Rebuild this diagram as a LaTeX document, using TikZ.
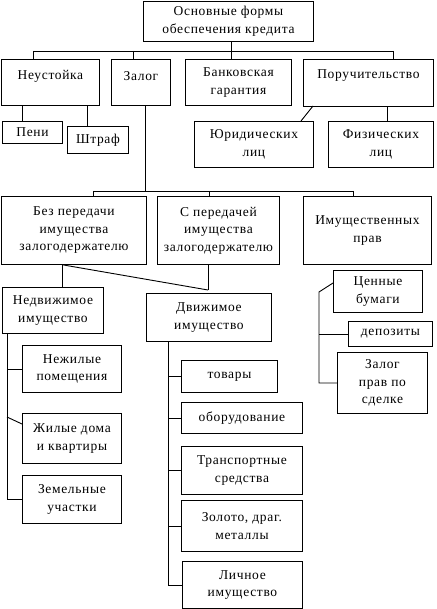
\documentclass[tikz,border=0pt]{standalone}
\usepackage{fontspec}
\setmainfont[LetterSpace=5]{Liberation Serif}
\usetikzlibrary{calc}
\tikzset{
  box/.style={draw, line width=0.9pt, align=center, inner sep=0pt, anchor=north west,
    font=\fontsize{13.5}{17.5}\selectfont},
  txt/.style={align=center, inner sep=0pt, font=\fontsize{13.5}{17.5}\selectfont},
  conn/.style={line width=0.9pt}
}
\newcommand\bx[6]{\node[box, minimum width={(#4-#2)*1pt}, minimum height={(#5-#3)*1pt}] (#1) at (#2,-#3) {#6};}
\begin{document}
\begin{tikzpicture}[x=1pt,y=1pt]
\useasboundingbox (0,0) rectangle (436,-609);
% top level
\bx{top}{143}{1}{313}{41}{Основные формы\\обеспечения кредита}
\bx{neu}{1}{59}{99}{105}{}
\node[txt] (neut) at ($(neu.north)+(0,-17)$) {Неустойка};
\bx{zalog}{111}{59}{170}{105}{}
\node[txt] (zalogt) at ($(zalog.north)+(0,-17)$) {Залог};
\bx{bank}{185}{59}{291}{105}{Банковская\\гарантия}
\bx{poruch}{303}{59}{433}{106}{}
\node[txt] (poruch t) at ($(poruch.north)+(0,-17)$) {Поручительство};
\bx{peni}{2}{121}{62}{143}{Пени}
\bx{shtraf}{67}{126}{128}{153}{Штраф}
\bx{yur}{194}{121}{313}{167}{Юридических\\лиц}
\bx{fiz}{328}{121}{433}{167}{Физических\\лиц}
% pledge
\bx{bez}{1}{196}{146}{264}{Без передачи\\имущества\\залогодержателю}
\bx{sper}{157}{196}{279}{264}{С передачей\\имущества\\залогодержателю}
\bx{imush}{303}{196}{431}{264}{Имущественных\\прав}
\bx{nedv}{2}{287}{103}{333}{Недвижимое\\имущество}
\bx{dvizh}{146}{293}{271}{341}{Движимое\\имущество}
\bx{nezh}{22}{345}{121}{392}{Нежилые\\помещения}
\bx{zhil}{22}{413}{121}{463}{Жилые дома\\и квартиры}
\bx{zem}{22}{475}{121}{523}{Земельные\\участки}
\bx{tovary}{181}{360}{277}{392}{товары}
\bx{oborud}{181}{402}{302}{433}{оборудование}
\bx{transp}{181}{446}{302}{494}{Транспортные\\средства}
\bx{zoloto}{181}{500}{302}{551}{Золото, драг.\\металлы}
\bx{lichn}{182}{561}{302}{608}{Личное\\имущество}
\bx{cenn}{333}{270}{422}{312}{Ценные\\бумаги}
\bx{depoz}{348}{321}{432}{346}{депозиты}
\bx{zprav}{337}{352}{427}{413}{Залог\\прав по\\сделке}
% coordinates
\coordinate (b1) at (33,-51);
\coordinate (b2) at (133,-51);
\coordinate (b3) at (231,-51);
\coordinate (b4) at (393,-51);
\coordinate (p1) at (22,0);
\coordinate (p2) at (87,0);
\coordinate (d1) at (313,-106);
\coordinate (d2) at (301,-121);
\coordinate (f1) at (387,0);
\coordinate (z1) at (145,-191);
\coordinate (c1) at (93,-191);
\coordinate (c2) at (209,-191);
\coordinate (c3) at (353,-191);
\coordinate (n1) at (62,0);
\coordinate (n2) at (63,0);
\coordinate (m) at (208,-290);
\coordinate (s1) at (7,0);
\coordinate (s2) at (168,0);
\coordinate (s3) at (319,-292);
\coordinate (zh1) at (7,-417);
\coordinate (zh2) at (22,-424);
\coordinate (ce) at (333,-283);
% connectors
\draw[conn] (top.south -| b3) -- (bank.north -| b3);
\draw[conn] (b1) -- (b4);
\draw[conn] (b1) -- (neu.north -| b1);
\draw[conn] (b2) -- (zalog.north -| b2);
\draw[conn] (b4) -- (poruch.north -| b4);
\draw[conn] (neu.south -| p1) -- (peni.north -| p1);
\draw[conn] (neu.south -| p2) -- (shtraf.north -| p2);
\draw[conn] (d1) -- (d2);
\draw[conn] (poruch.south -| f1) -- (fiz.north -| f1);
\draw[conn] (zalog.south -| z1) -- (z1);
\draw[conn] (c1) -- (c3);
\draw[conn] (c1) -- (bez.north -| c1);
\draw[conn] (c2) -- (sper.north -| c2);
\draw[conn] (c3) -- (imush.north -| c3);
\draw[conn] (bez.south -| n1) -- (nedv.north -| n1);
\draw[conn] (bez.south -| n2) -- (m);
\draw[conn] (sper.south -| m) -- (m);
\draw[conn] (nedv.south -| s1) |- (zem.west);
\draw[conn] (nezh.west -| s1) -- (nezh.west);
\draw[conn] (zh1) -- (zh2);
\draw[conn] (dvizh.south -| s2) |- (lichn.west);
\draw[conn] (tovary.west -| s2) -- (tovary.west);
\draw[conn] (oborud.west -| s2) -- (oborud.west);
\draw[conn] (transp.west -| s2) -- (transp.west);
\draw[conn] (zoloto.west -| s2) -- (zoloto.west);
\draw[conn] (ce) -- (s3) |- (zprav.west);
\draw[conn] (depoz.west -| s3) -- (depoz.west);
\end{tikzpicture}
\end{document}
